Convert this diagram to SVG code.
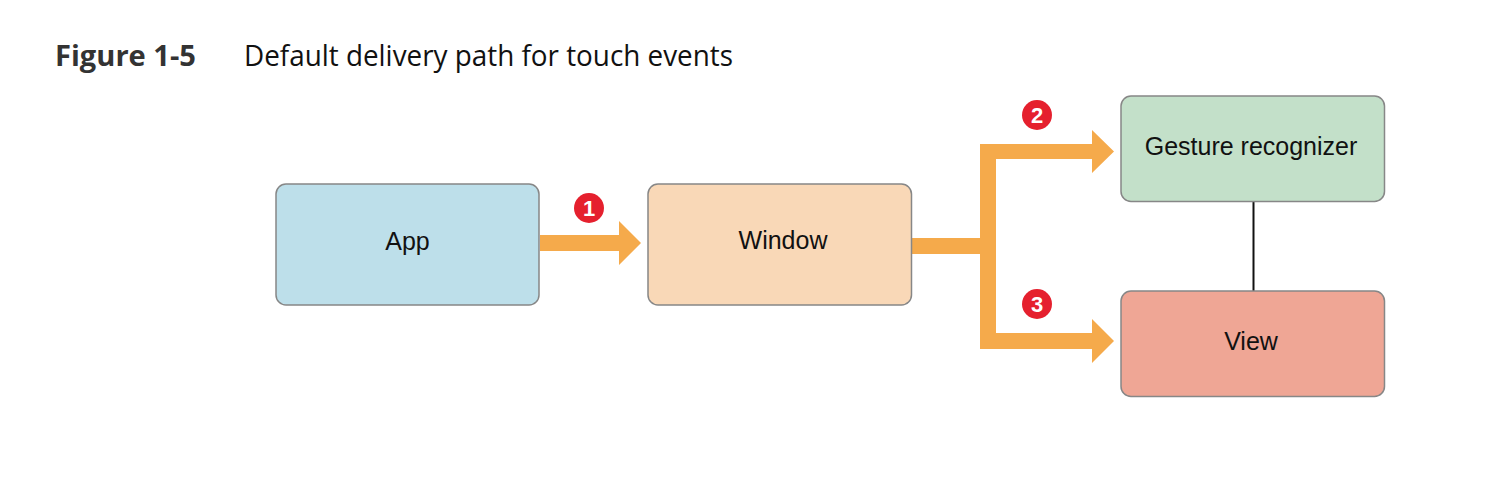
<svg xmlns="http://www.w3.org/2000/svg" width="1506" height="486" viewBox="0 0 1506 486">
<style>
.box{stroke:#878787;stroke-width:1.5}
.lbl{font-family:"Liberation Sans",Arial,sans-serif;font-size:25px;fill:#111;text-anchor:middle}
.arrow{fill:#f5aa4b}
.badge{fill:#e5202e}
.num{font-family:"Liberation Sans",Arial,sans-serif;font-size:22px;font-weight:bold;fill:#fff;text-anchor:middle}
.title{font-family:"Open Sans","Noto Sans",sans-serif;font-size:29px}
</style>
<rect width="1506" height="486" fill="#fff"/>
<g id="title">
<text class="title" x="55" y="65.5" font-weight="bold" fill="#333" textLength="141" lengthAdjust="spacingAndGlyphs">Figure 1-5</text>
<text class="title" x="244" y="65.5" fill="#111" textLength="489" lengthAdjust="spacingAndGlyphs">Default delivery path for touch events</text>
</g>
<g id="connectors">
<path class="arrow" d="M540,235 H619 V221 L641,243 L619,265 V251 H540 Z"/>
<path class="arrow" d="M912,238 H980 V144 H1092 V130 L1114,151.5 L1092,173 V159 H996 V333 H1092 V319 L1114,341 L1092,363 V349 H980 V254 H912 Z"/>
<line x1="1253.5" y1="201" x2="1253.5" y2="291" stroke="#111" stroke-width="2"/>
<g id="badge1"><circle class="badge" cx="589" cy="208" r="15"/><text class="num" x="589" y="216">1</text></g>
<g id="badge2"><circle class="badge" cx="1037" cy="115" r="15"/><text class="num" x="1037" y="123">2</text></g>
<g id="badge3"><circle class="badge" cx="1037" cy="304" r="15"/><text class="num" x="1037" y="312">3</text></g>
</g>
<g id="app">
<rect class="box" x="276" y="184" width="263" height="121" rx="10" fill="#bddfea"/>
<text class="lbl" x="407.5" y="250">App</text>
</g>
<g id="window">
<rect class="box" x="648" y="184" width="263.5" height="121" rx="10" fill="#f9d8b7"/>
<text class="lbl" x="783" y="249">Window</text>
</g>
<g id="gesture">
<rect class="box" x="1121" y="96" width="263.5" height="105.5" rx="10" fill="#c3e0c9"/>
<text class="lbl" x="1251" y="155">Gesture recognizer</text>
</g>
<g id="view">
<rect class="box" x="1121" y="291" width="263.5" height="105.5" rx="10" fill="#efa695"/>
<text class="lbl" x="1251" y="350">View</text>
</g>
</svg>
